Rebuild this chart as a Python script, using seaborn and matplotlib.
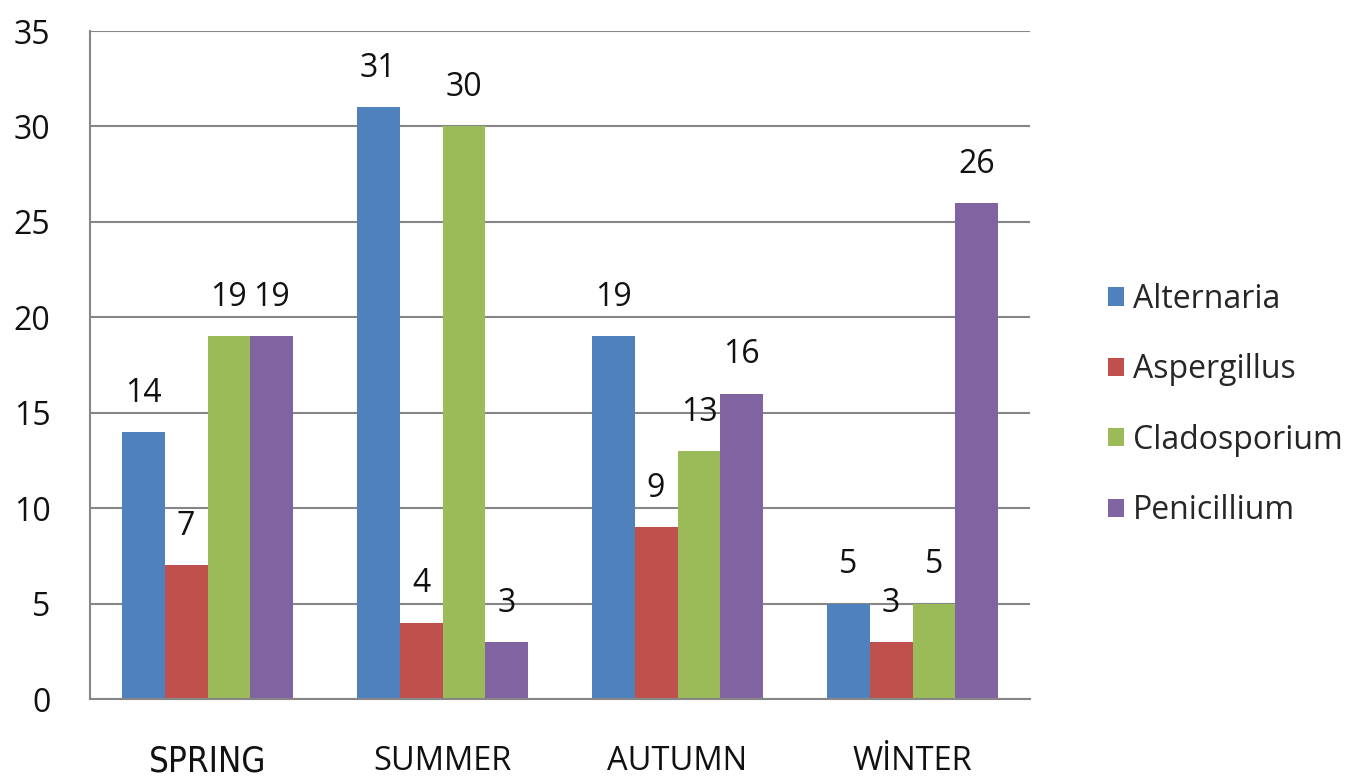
import matplotlib
matplotlib.use("Agg")
import matplotlib.pyplot as plt
import pandas as pd
import seaborn as sns

seasons = ["SPRING", "SUMMER", "AUTUMN", "WİNTER"]
species = ["Alternaria", "Aspergillus", "Cladosporium", "Penicillium"]
alternaria = [14, 31, 19, 5]
aspergillus = [7, 4, 9, 3]
cladosporium = [19, 30, 13, 5]
penicillium = [19, 3, 16, 26]
colors = ["#4F81BD", "#C0504D", "#9BBB59", "#8064A2"]
y_ticks = [0, 5, 10, 15, 20, 25, 30, 35]

sns.set_style("white")
plt.rcParams["font.family"] = ["Open Sans", "DejaVu Sans"]

rows = []
for name, vals in zip(species, [alternaria, aspergillus, cladosporium, penicillium]):
    for season, v in zip(seasons, vals):
        rows.append({"season": season, "species": name, "count": v})
df = pd.DataFrame(rows)

fig = plt.figure(figsize=(13.47, 7.77), dpi=100)
ax = fig.add_axes([90 / 1347, 1 - 699 / 777, 940 / 1347, 668 / 777])

sns.barplot(data=df, x="season", y="count", hue="species", order=seasons,
            hue_order=species, palette=colors, width=0.73, saturation=1,
            linewidth=0, ax=ax, legend=True)

grid_color = "#868686"
ax.set_ylim(0, 35)
ax.set_xlim(-0.5, 3.5)
ax.set_yticks(y_ticks)
ax.yaxis.grid(True, color=grid_color, linewidth=1.5)
ax.set_axisbelow(True)
for side in ["top", "right"]:
    ax.spines[side].set_visible(False)
for side in ["left", "bottom"]:
    ax.spines[side].set_color(grid_color)
    ax.spines[side].set_linewidth(1.5)
ax.tick_params(axis="y", length=9.5, width=1.5, color=grid_color, labelsize=23,
               pad=19, labelcolor="#111111")
ax.set_xticks([-0.5, 0.5, 1.5, 2.5, 3.5], minor=True)
ax.tick_params(axis="x", which="minor", length=9, width=1.5, color=grid_color)
ax.tick_params(axis="x", which="major", length=0, pad=33, labelsize=23.5,
               labelcolor="#111111")
ax.set_xlabel("")
ax.set_ylabel("")

# SPRING is drawn narrower and a little larger in the source
ticklabels = ax.get_xticklabels()
ticklabels[0].set_fontsize(25)
ticklabels[0].set_fontstretch("condensed")
ticklabels[0].set_family(["DejaVu Sans"])

for container in ax.containers:
    ax.bar_label(container, padding=16, fontsize=23, color="#111111")

handles, labels = ax.get_legend_handles_labels()
ax.get_legend().remove()
fig.legend(handles, labels, loc="center left", bbox_to_anchor=(1079 / 1347, 1 - 405 / 777),
           frameon=False, fontsize=23, handlelength=0.5, handleheight=0.5,
           handletextpad=0.3, labelspacing=1.17)

fig.savefig("out.png", dpi=100)
